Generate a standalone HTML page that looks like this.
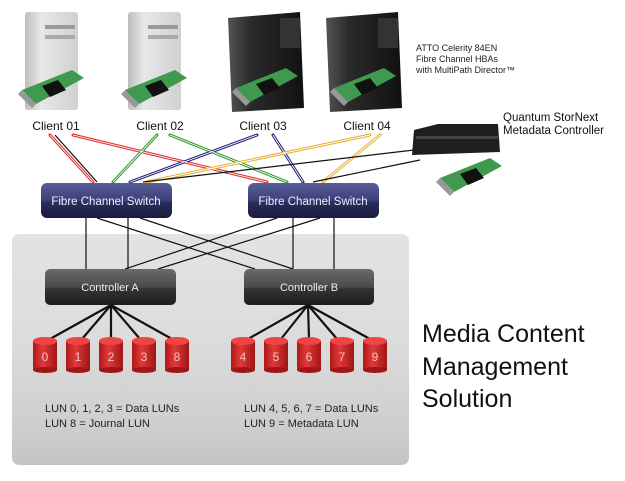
<!DOCTYPE html>
<html><head><meta charset="utf-8"><style>
html,body{margin:0;padding:0;background:#fff;}
svg{display:block;font-family:"Liberation Sans",sans-serif;}
</style></head><body>
<svg width="625" height="481" viewBox="0 0 625 481" xmlns="http://www.w3.org/2000/svg">
<defs>
<linearGradient id="panel" x1="0" y1="0" x2="0" y2="1">
<stop offset="0" stop-color="#e3e3e3"/><stop offset="0.45" stop-color="#dcdcdc"/><stop offset="0.7" stop-color="#d3d3d3"/><stop offset="0.9" stop-color="#cbcbcb"/><stop offset="1" stop-color="#c4c4c4"/>
</linearGradient>
<linearGradient id="sw" x1="0" y1="0" x2="0" y2="1">
<stop offset="0" stop-color="#5a5f9a"/><stop offset="0.5" stop-color="#3b3f78"/><stop offset="0.55" stop-color="#2a2d5c"/><stop offset="1" stop-color="#1a1c3c"/>
</linearGradient>
<linearGradient id="ct" x1="0" y1="0" x2="0" y2="1">
<stop offset="0" stop-color="#6a6a6a"/><stop offset="0.5" stop-color="#4a4a4a"/><stop offset="0.55" stop-color="#333"/><stop offset="1" stop-color="#1e1e1e"/>
</linearGradient>
<linearGradient id="cyl" x1="0" y1="0" x2="1" y2="0">
<stop offset="0" stop-color="#b01818"/><stop offset="0.4" stop-color="#e03a3a"/><stop offset="1" stop-color="#a01515"/>
</linearGradient>
<linearGradient id="mac" x1="0" y1="0" x2="1" y2="0">
<stop offset="0" stop-color="#bdbdbd"/><stop offset="0.3" stop-color="#e8e8e8"/><stop offset="1" stop-color="#d0d0d0"/>
</linearGradient>
<linearGradient id="blk" x1="0" y1="0" x2="1" y2="0">
<stop offset="0" stop-color="#555"/><stop offset="0.3" stop-color="#2a2a2a"/><stop offset="1" stop-color="#111"/>
</linearGradient>
<g id="card">
<polygon points="0,26 50,6 62,14 14,40" fill="#3f9a50"/>
<polygon points="20,22 36,16 44,26 28,33" fill="#111"/>
<polygon points="0,26 14,40 10,44 -4,30" fill="#999"/>
</g>
</defs>

<rect x="12" y="234" width="397" height="231" rx="7" fill="url(#panel)"/>

<rect x="25" y="12" width="53" height="98" rx="3" fill="url(#mac)"/>
<rect x="45" y="25" width="30" height="4" fill="#999"/><rect x="45" y="35" width="30" height="4" fill="#aaa"/>
<rect x="128" y="12" width="53" height="98" rx="3" fill="url(#mac)"/>
<rect x="148" y="25" width="30" height="4" fill="#999"/><rect x="148" y="35" width="30" height="4" fill="#aaa"/>
<polygon points="228,18 300,12 304,108 232,112" fill="url(#blk)"/>
<rect x="280" y="18" width="20" height="30" fill="#333"/>
<polygon points="326,18 398,12 402,108 330,112" fill="url(#blk)"/>
<rect x="378" y="18" width="20" height="30" fill="#333"/>
<use href="#card" x="22" y="64"/>
<use href="#card" x="125" y="64"/>
<use href="#card" x="236" y="62"/>
<use href="#card" x="334" y="62"/>

<polygon points="414,130 438,124 498,124 500,152 412,155" fill="#1e1e1e"/>
<rect x="416" y="136" width="82" height="3" fill="#444"/>
<use href="#card" x="440" y="152"/>

<g font-size="9" fill="#222">
<text x="416" y="51">ATTO Celerity 84EN</text>
<text x="416" y="62">Fibre Channel HBAs</text>
<text x="416" y="73">with MultiPath Director™</text>
</g>
<g font-size="11.5" fill="#111">
<text x="503" y="121">Quantum StorNext</text>
<text x="503" y="134">Metadata Controller</text>
</g>
<g font-size="12" fill="#111" text-anchor="middle">
<text x="56" y="130">Client 01</text>
<text x="160" y="130">Client 02</text>
<text x="263" y="130">Client 03</text>
<text x="367" y="130">Client 04</text>
</g>

<g fill="none" stroke-width="3" stroke-linecap="round">
<g stroke="#d33"><line x1="50" y1="135" x2="93" y2="182"/><line x1="73" y1="135" x2="267" y2="182"/></g>
<g stroke="#393"><line x1="157" y1="135" x2="113" y2="182"/><line x1="170" y1="135" x2="287" y2="182"/></g>
<g stroke="#227"><line x1="257" y1="135" x2="130" y2="182"/><line x1="273" y1="135" x2="303" y2="182"/></g>
<g stroke="#e5b030"><line x1="370" y1="135" x2="147" y2="182"/><line x1="380" y1="135" x2="323" y2="182"/></g>
</g>
<g fill="none" stroke="#fff" stroke-width="0.9">
<line x1="50" y1="135" x2="93" y2="182"/><line x1="73" y1="135" x2="267" y2="182"/>
<line x1="157" y1="135" x2="113" y2="182"/><line x1="170" y1="135" x2="287" y2="182"/>
<line x1="257" y1="135" x2="130" y2="182"/><line x1="273" y1="135" x2="303" y2="182"/>
<line x1="370" y1="135" x2="147" y2="182"/><line x1="380" y1="135" x2="323" y2="182"/>
</g>
<g stroke="#111" stroke-width="1.2">
<line x1="55" y1="135" x2="97" y2="182"/>
<line x1="414" y1="150" x2="143" y2="182"/>
<line x1="420" y1="160" x2="313" y2="182"/>
</g>

<g stroke="#111" stroke-width="1.2">
<line x1="86" y1="218" x2="86" y2="269"/><line x1="128" y1="218" x2="128" y2="269"/>
<line x1="293" y1="218" x2="293" y2="269"/><line x1="334" y1="218" x2="334" y2="269"/>
<line x1="97" y1="218" x2="255" y2="269"/><line x1="140" y1="218" x2="293" y2="269"/>
<line x1="277" y1="218" x2="125" y2="269"/><line x1="320" y1="218" x2="158" y2="269"/>
</g>

<rect x="41" y="183" width="131" height="35" rx="6" fill="url(#sw)"/>
<rect x="248" y="183" width="131" height="35" rx="6" fill="url(#sw)"/>
<g font-size="11.5" fill="#eef" text-anchor="middle">
<text x="106" y="205">Fibre Channel Switch</text>
<text x="313" y="205">Fibre Channel Switch</text>
</g>

<rect x="45" y="269" width="131" height="36" rx="5" fill="url(#ct)"/>
<rect x="244" y="269" width="130" height="36" rx="5" fill="url(#ct)"/>
<g font-size="11" fill="#eee" text-anchor="middle">
<text x="110" y="291">Controller A</text>
<text x="309" y="291">Controller B</text>
</g>

<g stroke="#111" stroke-width="2.2">
<line x1="111" y1="305" x2="50" y2="339"/><line x1="111" y1="305" x2="82" y2="339"/><line x1="111" y1="305" x2="111" y2="339"/><line x1="111" y1="305" x2="140" y2="339"/><line x1="111" y1="305" x2="172" y2="339"/>
<line x1="308" y1="305" x2="248" y2="339"/><line x1="308" y1="305" x2="281" y2="339"/><line x1="308" y1="305" x2="309" y2="339"/><line x1="308" y1="305" x2="337" y2="339"/><line x1="308" y1="305" x2="370" y2="339"/>
</g>

<g font-size="12" fill="#f6c0c0" text-anchor="middle">
<g transform="translate(45,0)"><rect x="-12" y="341" width="24" height="29" fill="url(#cyl)"/><ellipse cx="0" cy="370" rx="12" ry="3" fill="#a01515"/><ellipse cx="0" cy="341" rx="12" ry="4" fill="#e44"/><text x="0" y="361">0</text></g>
<g transform="translate(78,0)"><rect x="-12" y="341" width="24" height="29" fill="url(#cyl)"/><ellipse cx="0" cy="370" rx="12" ry="3" fill="#a01515"/><ellipse cx="0" cy="341" rx="12" ry="4" fill="#e44"/><text x="0" y="361">1</text></g>
<g transform="translate(111,0)"><rect x="-12" y="341" width="24" height="29" fill="url(#cyl)"/><ellipse cx="0" cy="370" rx="12" ry="3" fill="#a01515"/><ellipse cx="0" cy="341" rx="12" ry="4" fill="#e44"/><text x="0" y="361">2</text></g>
<g transform="translate(144,0)"><rect x="-12" y="341" width="24" height="29" fill="url(#cyl)"/><ellipse cx="0" cy="370" rx="12" ry="3" fill="#a01515"/><ellipse cx="0" cy="341" rx="12" ry="4" fill="#e44"/><text x="0" y="361">3</text></g>
<g transform="translate(177,0)"><rect x="-12" y="341" width="24" height="29" fill="url(#cyl)"/><ellipse cx="0" cy="370" rx="12" ry="3" fill="#a01515"/><ellipse cx="0" cy="341" rx="12" ry="4" fill="#e44"/><text x="0" y="361">8</text></g>
<g transform="translate(243,0)"><rect x="-12" y="341" width="24" height="29" fill="url(#cyl)"/><ellipse cx="0" cy="370" rx="12" ry="3" fill="#a01515"/><ellipse cx="0" cy="341" rx="12" ry="4" fill="#e44"/><text x="0" y="361">4</text></g>
<g transform="translate(276,0)"><rect x="-12" y="341" width="24" height="29" fill="url(#cyl)"/><ellipse cx="0" cy="370" rx="12" ry="3" fill="#a01515"/><ellipse cx="0" cy="341" rx="12" ry="4" fill="#e44"/><text x="0" y="361">5</text></g>
<g transform="translate(309,0)"><rect x="-12" y="341" width="24" height="29" fill="url(#cyl)"/><ellipse cx="0" cy="370" rx="12" ry="3" fill="#a01515"/><ellipse cx="0" cy="341" rx="12" ry="4" fill="#e44"/><text x="0" y="361">6</text></g>
<g transform="translate(342,0)"><rect x="-12" y="341" width="24" height="29" fill="url(#cyl)"/><ellipse cx="0" cy="370" rx="12" ry="3" fill="#a01515"/><ellipse cx="0" cy="341" rx="12" ry="4" fill="#e44"/><text x="0" y="361">7</text></g>
<g transform="translate(375,0)"><rect x="-12" y="341" width="24" height="29" fill="url(#cyl)"/><ellipse cx="0" cy="370" rx="12" ry="3" fill="#a01515"/><ellipse cx="0" cy="341" rx="12" ry="4" fill="#e44"/><text x="0" y="361">9</text></g>
</g>

<g font-size="11" fill="#222">
<text x="45" y="412">LUN 0, 1, 2, 3 = Data LUNs</text>
<text x="45" y="427">LUN 8 = Journal LUN</text>
<text x="244" y="412">LUN 4, 5, 6, 7 = Data LUNs</text>
<text x="244" y="427">LUN 9 = Metadata LUN</text>
</g>
<g font-size="25" fill="#111">
<text x="422" y="342">Media Content</text>
<text x="422" y="375">Management</text>
<text x="422" y="407">Solution</text>
</g>
</svg>
</body></html>
